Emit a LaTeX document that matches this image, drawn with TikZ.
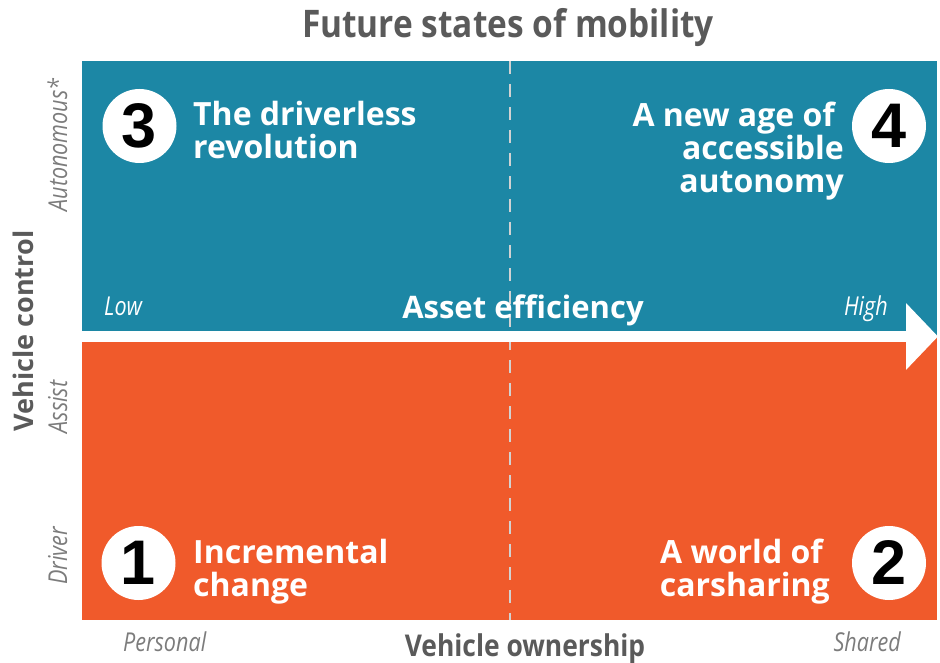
\documentclass[tikz,border=0pt]{standalone}
\usepackage{fontspec}
\setmainfont{Open Sans}
\newfontfamily\estreita[FakeStretch=0.88]{Open Sans}
\newfontfamily\leve[FakeStretch=0.83]{Open Sans}
\newfontfamily\digitos{Liberation Sans}
\usetikzlibrary{arrows.meta}
\usepackage{xcolor}

\definecolor{azul}{HTML}{1C87A5}
\definecolor{laranja}{HTML}{F05A2B}
\definecolor{cinza}{HTML}{5A5A5A}
\definecolor{cinzaclaro}{HTML}{7C7C7C}
\definecolor{tracejado}{HTML}{D2D2D2}

\tikzset{
    cenario/.style={inner sep=0pt, text=white, font=\bfseries\fontsize{32}{33}\selectfont},
    numero/.style={circle, fill=white, minimum size=74pt, inner sep=0pt, font=\digitos\bfseries\fontsize{63}{63}\selectfont},
    extremo/.style={inner sep=0pt, font=\leve\itshape\fontsize{26}{26}\selectfont},
    eixo/.style={inner sep=0pt, text=cinza, font=\estreita\bfseries\fontsize{30}{30}\selectfont},
}

\begin{document}
\begin{tikzpicture}[x=1pt, y=1pt]
    \useasboundingbox (0,0) rectangle (940,-663);
    % Quadrantes
    \fill[azul] (82,-61) rectangle (937,-337);
    \fill[laranja] (82,-337) rectangle (937,-620);
    % Divisao
    \draw[tracejado, line width=2pt, dash pattern=on 13pt off 10pt] (510,-61) -- (510,-620);
    % Seta
    \coordinate (baixo) at (82,-336.5);
    \coordinate (alto) at (938,-336.5);
    \draw[white, line width=11pt, -{Triangle[length=32pt, width=65pt]}] (baixo) -- (alto);
    \node[extremo, text=white, anchor=base west] (baixa) at (104,-315) {Low};
    \node[extremo, text=white, anchor=base east] (alta) at (888,-315) {High};
    \node[cenario, font=\bfseries\fontsize{31}{31}\selectfont, anchor=base] (eficiencia) at (523,-318) {Asset efficiency};
    % Titulo
    \node[eixo, font=\estreita\bfseries\fontsize{38}{38}\selectfont, anchor=base] (titulo) at (508,-38) {Future states of mobility};
    % Eixo horizontal
    \node[extremo, text=cinzaclaro, anchor=base west] (pessoal) at (123,-651) {Personal};
    \node[eixo, anchor=base] (posse) at (525,-656) {Vehicle ownership};
    \node[extremo, text=cinzaclaro, anchor=base east] (partilhado) at (901,-651) {Shared};
    % Eixo vertical
    \node[eixo, font=\bfseries\fontsize{27}{27}\selectfont, rotate=90, anchor=base] (controle) at (34,-331) {Vehicle control};
    \node[extremo, text=cinzaclaro, rotate=90, anchor=base] (autonomo) at (67,-145) {Autonomous*};
    \node[extremo, text=cinzaclaro, rotate=90, anchor=base] (assistido) at (67,-407) {Assist};
    \node[extremo, text=cinzaclaro, rotate=90, anchor=base] (motorista) at (67,-556) {Driver};
    % Cenarios
    \node[numero] (n3) at (139.5,-126) {3};
    \node[cenario, anchor=base west, align=left] (q3) at (193,-159) {The driverless\\revolution};
    \node[numero] (n4) at (889,-126) {4};
    \node[cenario, anchor=base east, align=right] (q4) at (844,-193) {A new age of\hspace*{9pt}\\accessible\\autonomy};
    \node[numero] (n1) at (138.5,-563) {1};
    \node[cenario, anchor=base west, align=left] (q1) at (193,-596) {Incremental\\change};
    \node[numero] (n2) at (889,-563) {2};
    \node[cenario, anchor=base east, align=right] (q2) at (830,-596) {A world of\hspace*{7pt}\\carsharing};
\end{tikzpicture}
\end{document}
